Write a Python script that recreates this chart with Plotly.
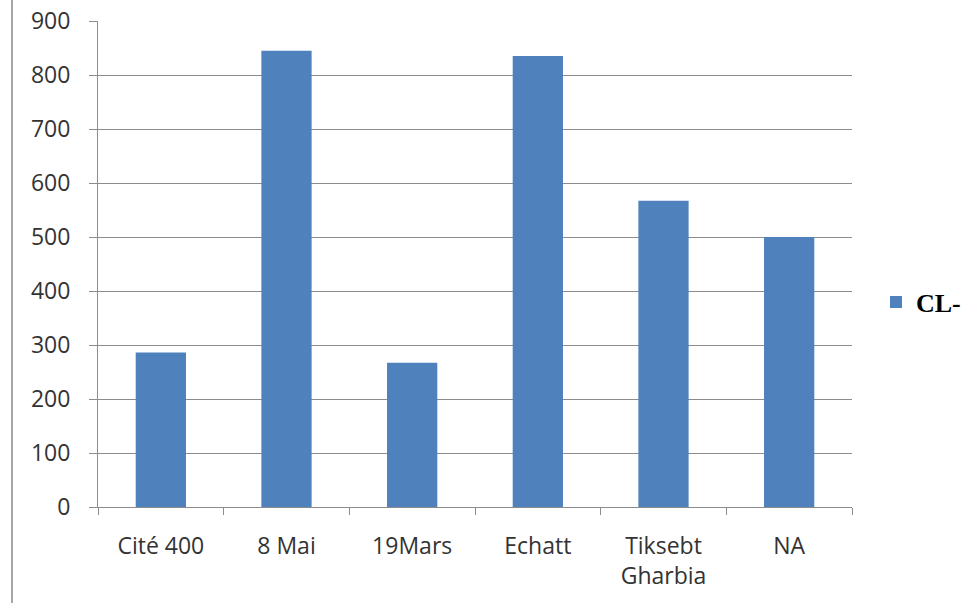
import plotly.graph_objects as go

categories = ["Cité 400", "8 Mai", "19Mars", "Echatt", "Tiksebt<br>Gharbia", "NA"]
values = [286, 845, 267, 835, 567, 500]
series_name = "CL-"
y_ticks = [0, 100, 200, 300, 400, 500, 600, 700, 800, 900]

L, R, T, B = 98, 118, 21, 96
W, H = 970, 603
pw = W - L - R

fig = go.Figure()
fig.add_trace(go.Bar(
    x=categories, y=values, name="<b>" + series_name + "</b>",
    marker=dict(color="#4F81BD", line=dict(width=0)),
    width=0.4,
))

fig.update_layout(
    width=W, height=H,
    margin=dict(l=L, r=R, t=T, b=B, pad=0, autoexpand=False),
    paper_bgcolor="white", plot_bgcolor="white",
    font=dict(family="Open Sans, Liberation Sans, sans-serif", size=23, color="#333333"),
    showlegend=True,
    legend=dict(
        xref="container", yref="container",
        x=876 / W, y=1 - 302 / H, xanchor="left", yanchor="middle",
        font=dict(family="Liberation Serif, Times New Roman, serif", size=26, color="#000000"),
        itemwidth=30, bgcolor="rgba(0,0,0,0)",
    ),
)

fig.update_yaxes(
    range=[0, 900], tickvals=y_ticks, ticktext=[str(v) for v in y_ticks],
    showgrid=True, gridcolor="#8C8C8C", gridwidth=1,
    showline=True, linecolor="#8C8C8C", linewidth=1,
    ticks="outside", ticklen=8, tickcolor="#8C8C8C",
    ticklabelstandoff=14, zeroline=False,
)
fig.update_xaxes(
    showline=True, linecolor="#8C8C8C", linewidth=1,
    ticks="outside", ticklen=7, tickcolor="#8C8C8C", tickson="boundaries",
    ticklabelstandoff=18, showgrid=False,
)

fig.add_shape(type="line", xref="paper", yref="paper",
              x0=(12 - L) / pw, x1=(12 - L) / pw, y0=-(B) / (H - T - B), y1=1 + T / (H - T - B),
              line=dict(color="#A6A6A6", width=2))

fig.write_html("out.html")
